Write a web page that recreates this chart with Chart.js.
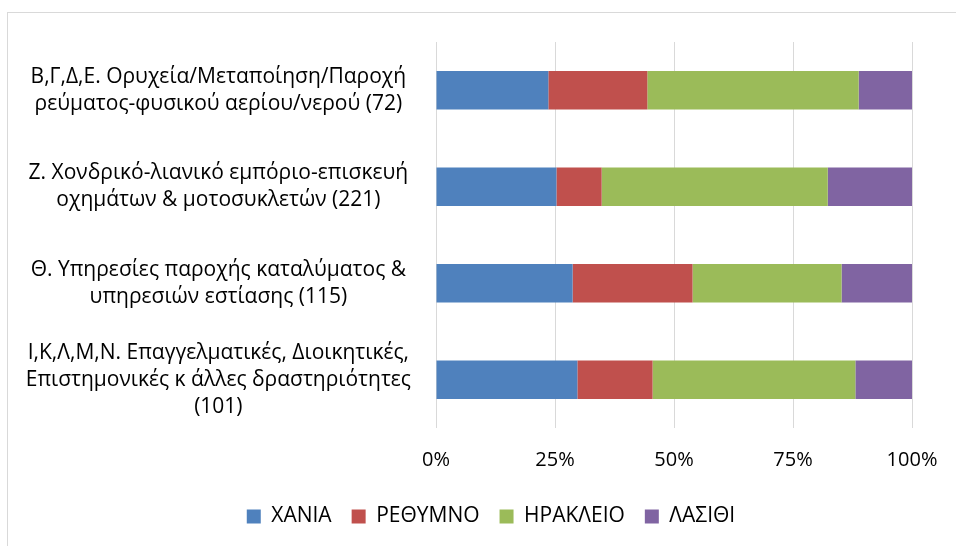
<!DOCTYPE html>
<html>
<head>
<meta charset="utf-8">
<script src="https://cdn.jsdelivr.net/npm/chart.js@4/dist/chart.umd.min.js"></script>
<style>
  html, body { margin: 0; padding: 0; background: #ffffff; }
  #wrap { position: relative; width: 956px; height: 546px; overflow: hidden; }
  #frame { position: absolute; left: 7px; top: 12px; width: 1000px; height: 600px;
           border-left: 1px solid #d9d9d9; border-top: 1px solid #d9d9d9; }
  canvas { position: absolute; left: 0; top: 0; }
</style>
</head>
<body>
<div id="wrap">
  <div id="frame"></div>
  <canvas id="c" width="956" height="546"></canvas>
</div>
<script>
const categories = [
  ["Β,Γ,Δ,Ε. Ορυχεία/Μεταποίηση/Παροχή", "ρεύματος-φυσικού αερίου/νερού (72)"],
  ["Ζ. Χονδρικό-λιανικό εμπόριο-επισκευή", "οχημάτων & μοτοσυκλετών (221)"],
  ["Θ. Υπηρεσίες παροχής καταλύματος &", "υπηρεσιών εστίασης (115)"],
  ["Ι,Κ,Λ,Μ,Ν. Επαγγελματικές, Διοικητικές,", "Επιστημονικές κ άλλες δραστηριότητες", "(101)"]
];
const seriesNames = ["ΧΑΝΙΑ", "ΡΕΘΥΜΝΟ", "ΗΡΑΚΛΕΙΟ", "ΛΑΣΙΘΙ"];
const chania   = [23.6, 25.3, 28.7, 29.7];
const rethymno = [20.8,  9.5, 25.2, 15.8];
const iraklio  = [44.4, 47.5, 31.3, 42.6];
const lasithi  = [11.2, 17.7, 14.8, 11.9];
const xTicks = [0, 25, 50, 75, 100];
const colors = ["#4F81BD", "#C0504D", "#9BBB59", "#8064A2"];

const FONT = "'Open Sans', 'Noto Sans', sans-serif";
const seriesValues = [chania, rethymno, iraklio, lasithi];

const legendShift = {
  id: 'legendShift',
  afterLayout(chart) {
    const lg = chart.legend;
    if (!lg) return;
    lg.left += 70;
    lg.width -= 70;
    lg.top -= 6;
    lg.bottom -= 6;
  }
};

new Chart(document.getElementById('c'), {
  type: 'bar',
  data: {
    labels: categories,
    datasets: seriesNames.map((name, i) => ({
      label: name,
      data: seriesValues[i],
      backgroundColor: colors[i],
      borderWidth: 0,
      categoryPercentage: 0.4,
      barPercentage: 1.0
    }))
  },
  plugins: [legendShift],
  options: {
    indexAxis: 'y',
    responsive: false,
    animation: false,
    layout: { padding: { left: 0, right: 44, top: 42, bottom: 3 } },
    plugins: {
      tooltip: { enabled: false },
      legend: {
        position: 'bottom',
        labels: {
          color: '#000000',
          font: { family: FONT, size: 21 },
          boxWidth: 14,
          boxHeight: 14,
          padding: 20
        }
      }
    },
    scales: {
      x: {
        stacked: true,
        min: 0,
        max: 100,
        afterBuildTicks: (scale) => { scale.ticks = xTicks.map(v => ({ value: v })); },
        afterFit: (scale) => {
          scale.paddingLeft = 0;
          scale.paddingRight = 0;
        },
        ticks: {
          color: '#000000',
          font: { family: FONT, size: 20 },
          padding: 20,
          callback: (v) => v + '%'
        },
        grid: { color: '#d9d9d9', lineWidth: 1, drawTicks: false },
        border: { display: false }
      },
      y: {
        stacked: true,
        afterFit: (scale) => {
          scale.width = 436;
          scale.paddingTop = 0;
          scale.paddingBottom = 0;
        },
        ticks: {
          color: '#000000',
          font: { family: FONT, size: 21, lineHeight: '27px' },
          crossAlign: 'center',
          padding: 17
        },
        grid: { display: false },
        border: { display: false }
      }
    }
  }
});
</script>
</body>
</html>
